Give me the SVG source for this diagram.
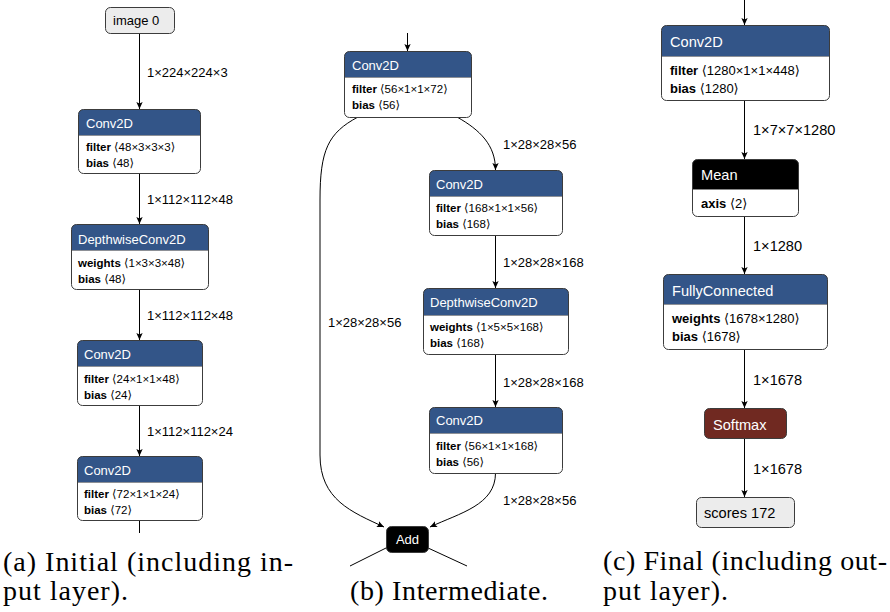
<svg xmlns="http://www.w3.org/2000/svg" width="890" height="612" viewBox="0 0 890 612">
<defs>
<style>
.bg{fill:#fff}
.box{fill:#fff;stroke:none}
.bd{fill:none;stroke:#3c3c3c;stroke-width:1}
.dv{stroke:#8a8a8a;stroke-width:0.8}
.hdr{fill:#335588}
.hk{fill:#000}
.hs{fill:#702921}
.io{fill:#ececec;stroke:#3c3c3c;stroke-width:1}
text{font-family:"Liberation Sans","DejaVu Sans",sans-serif;fill:#000}
.ht{fill:#fff;font-size:13px}
.at{font-size:11.5px}
.el{font-size:13px}
.ht2{fill:#fff;font-size:14.6px}
.at2{font-size:13px}
.el2{font-size:14.6px}
.b{font-weight:bold}
.edge{fill:none;stroke:#000;stroke-width:1}
.cap{font-family:"Liberation Serif","DejaVu Serif",serif;font-size:28px}
</style>
<marker id="ah" viewBox="0 0 10 10" refX="10" refY="5" markerWidth="8" markerHeight="7" markerUnits="userSpaceOnUse" orient="auto">
<path d="M0,0.5 L10,5 L0,9.5 L2,5 Z" fill="#000"/>
</marker>
</defs>
<rect class="bg" x="0" y="0" width="890" height="612"/>

<g id="connectors">
<!-- panel a -->
<path class="edge" d="M139.5,33 V109" marker-end="url(#ah)"/>
<path class="edge" d="M139.5,173 V224" marker-end="url(#ah)"/>
<path class="edge" d="M139.5,289 V340" marker-end="url(#ah)"/>
<path class="edge" d="M139.5,405 V456" marker-end="url(#ah)"/>
<path class="edge" d="M139.5,520 V533"/>
<text class="el" x="147" y="77">1×224×224×3</text>
<text class="el" x="147" y="204">1×112×112×48</text>
<text class="el" x="147" y="320">1×112×112×48</text>
<text class="el" x="147" y="436">1×112×112×24</text>
<!-- panel b -->
<path class="edge" d="M407.5,33 V51" marker-end="url(#ah)"/>
<path class="edge" d="M457,117 C480,130 495.5,145 495.5,170" marker-end="url(#ah)"/>
<path class="edge" d="M495.5,235 V288" marker-end="url(#ah)"/>
<path class="edge" d="M495.5,354 V407" marker-end="url(#ah)"/>
<path class="edge" d="M495.5,473 C495.5,505 460,513 430,527" marker-end="url(#ah)"/>
<path class="edge" d="M358,117 C328,133 320,150 320,200 L320,455 C320,500 352,512 384,527" marker-end="url(#ah)"/>
<path class="edge" d="M387,547.5 L350,566"/>
<path class="edge" d="M427,547.5 L467,566"/>
<text class="el" x="503" y="149">1×28×28×56</text>
<text class="el" x="503" y="267">1×28×28×168</text>
<text class="el" x="503" y="387">1×28×28×168</text>
<text class="el" x="503" y="505">1×28×28×56</text>
<text class="el" x="328" y="327">1×28×28×56</text>
<!-- panel c -->
<path class="edge" d="M744.5,0 V25" marker-end="url(#ah)"/>
<path class="edge" d="M744.5,100 V159" marker-end="url(#ah)"/>
<path class="edge" d="M744.5,216 V274" marker-end="url(#ah)"/>
<path class="edge" d="M744.5,349 V408" marker-end="url(#ah)"/>
<path class="edge" d="M744.5,438 V497" marker-end="url(#ah)"/>
<text class="el2" x="753" y="135">1×7×7×1280</text>
<text class="el2" x="753" y="251">1×1280</text>
<text class="el2" x="753" y="385">1×1678</text>
<text class="el2" x="753" y="474">1×1678</text>
</g>

<!-- panel a nodes -->
<g id="a-image0">
<rect class="io" x="105.5" y="7.5" width="69" height="26" rx="5"/>
<text class="el" x="113" y="25">image 0</text>
</g>
<g id="a-conv1">
<rect class="box" x="78.5" y="109.5" width="122" height="64" rx="5"/>
<path class="hdr" d="M78.5,135.5 V114.5 Q78.5,109.5 83.5,109.5 H195.5 Q200.5,109.5 200.5,114.5 V135.5 Z"/>
<line class="dv" x1="78.5" y1="135.5" x2="200.5" y2="135.5"/>
<rect class="bd" x="78.5" y="109.5" width="122" height="64" rx="5"/>
<text class="ht" x="86" y="128">Conv2D</text>
<text class="at" x="86" y="151"><tspan class="b">filter</tspan> ⟨48×3×3×3⟩</text>
<text class="at" x="86" y="167"><tspan class="b">bias</tspan> ⟨48⟩</text>
</g>
<g id="a-dw1">
<rect class="box" x="71.5" y="224.5" width="137" height="65" rx="5"/>
<path class="hdr" d="M71.5,250.5 V229.5 Q71.5,224.5 76.5,224.5 H203.5 Q208.5,224.5 208.5,229.5 V250.5 Z"/>
<line class="dv" x1="71.5" y1="250.5" x2="208.5" y2="250.5"/>
<rect class="bd" x="71.5" y="224.5" width="137" height="65" rx="5"/>
<text class="ht" x="78" y="244">DepthwiseConv2D</text>
<text class="at" x="78" y="267"><tspan class="b">weights</tspan> ⟨1×3×3×48⟩</text>
<text class="at" x="78" y="283"><tspan class="b">bias</tspan> ⟨48⟩</text>
</g>
<g id="a-conv2">
<rect class="box" x="77.5" y="340.5" width="125" height="65" rx="5"/>
<path class="hdr" d="M77.5,366.5 V345.5 Q77.5,340.5 82.5,340.5 H197.5 Q202.5,340.5 202.5,345.5 V366.5 Z"/>
<line class="dv" x1="77.5" y1="366.5" x2="202.5" y2="366.5"/>
<rect class="bd" x="77.5" y="340.5" width="125" height="65" rx="5"/>
<text class="ht" x="84" y="359">Conv2D</text>
<text class="at" x="84" y="383"><tspan class="b">filter</tspan> ⟨24×1×1×48⟩</text>
<text class="at" x="84" y="399"><tspan class="b">bias</tspan> ⟨24⟩</text>
</g>
<g id="a-conv3">
<rect class="box" x="77.5" y="456.5" width="125" height="64" rx="5"/>
<path class="hdr" d="M77.5,482.5 V461.5 Q77.5,456.5 82.5,456.5 H197.5 Q202.5,456.5 202.5,461.5 V482.5 Z"/>
<line class="dv" x1="77.5" y1="482.5" x2="202.5" y2="482.5"/>
<rect class="bd" x="77.5" y="456.5" width="125" height="64" rx="5"/>
<text class="ht" x="84" y="475">Conv2D</text>
<text class="at" x="84" y="498"><tspan class="b">filter</tspan> ⟨72×1×1×24⟩</text>
<text class="at" x="84" y="514"><tspan class="b">bias</tspan> ⟨72⟩</text>
</g>

<!-- panel b nodes -->
<g id="b-conv1">
<rect class="box" x="344.5" y="51.5" width="127" height="66" rx="5"/>
<path class="hdr" d="M344.5,77.5 V56.5 Q344.5,51.5 349.5,51.5 H466.5 Q471.5,51.5 471.5,56.5 V77.5 Z"/>
<line class="dv" x1="344.5" y1="77.5" x2="471.5" y2="77.5"/>
<rect class="bd" x="344.5" y="51.5" width="127" height="66" rx="5"/>
<text class="ht" x="352" y="70">Conv2D</text>
<text class="at" x="352" y="93"><tspan class="b">filter</tspan> ⟨56×1×1×72⟩</text>
<text class="at" x="352" y="109"><tspan class="b">bias</tspan> ⟨56⟩</text>
</g>
<g id="b-conv2">
<rect class="box" x="429.5" y="170.5" width="133" height="65" rx="5"/>
<path class="hdr" d="M429.5,196.5 V175.5 Q429.5,170.5 434.5,170.5 H557.5 Q562.5,170.5 562.5,175.5 V196.5 Z"/>
<line class="dv" x1="429.5" y1="196.5" x2="562.5" y2="196.5"/>
<rect class="bd" x="429.5" y="170.5" width="133" height="65" rx="5"/>
<text class="ht" x="436" y="189">Conv2D</text>
<text class="at" x="436" y="212"><tspan class="b">filter</tspan> ⟨168×1×1×56⟩</text>
<text class="at" x="436" y="228"><tspan class="b">bias</tspan> ⟨168⟩</text>
</g>
<g id="b-dw">
<rect class="box" x="423.5" y="288.5" width="145" height="66" rx="5"/>
<path class="hdr" d="M423.5,315.5 V293.5 Q423.5,288.5 428.5,288.5 H563.5 Q568.5,288.5 568.5,293.5 V315.5 Z"/>
<line class="dv" x1="423.5" y1="315.5" x2="568.5" y2="315.5"/>
<rect class="bd" x="423.5" y="288.5" width="145" height="66" rx="5"/>
<text class="ht" x="430" y="307">DepthwiseConv2D</text>
<text class="at" x="430" y="331"><tspan class="b">weights</tspan> ⟨1×5×5×168⟩</text>
<text class="at" x="430" y="347"><tspan class="b">bias</tspan> ⟨168⟩</text>
</g>
<g id="b-conv3">
<rect class="box" x="429.5" y="407.5" width="133" height="66" rx="5"/>
<path class="hdr" d="M429.5,433.5 V412.5 Q429.5,407.5 434.5,407.5 H557.5 Q562.5,407.5 562.5,412.5 V433.5 Z"/>
<line class="dv" x1="429.5" y1="433.5" x2="562.5" y2="433.5"/>
<rect class="bd" x="429.5" y="407.5" width="133" height="66" rx="5"/>
<text class="ht" x="436" y="425">Conv2D</text>
<text class="at" x="436" y="450"><tspan class="b">filter</tspan> ⟨56×1×1×168⟩</text>
<text class="at" x="436" y="466"><tspan class="b">bias</tspan> ⟨56⟩</text>
</g>
<g id="b-add">
<rect x="386.5" y="526.5" width="42" height="26" rx="5" fill="#000" stroke="#3c3c3c"/>
<text class="ht" x="407.5" y="544" text-anchor="middle">Add</text>
</g>

<!-- panel c nodes -->
<g id="c-conv">
<rect class="box" x="661.5" y="25.5" width="168" height="75" rx="5"/>
<path class="hdr" d="M661.5,56.5 V30.5 Q661.5,25.5 666.5,25.5 H824.5 Q829.5,25.5 829.5,30.5 V56.5 Z"/>
<line class="dv" x1="661.5" y1="56.5" x2="829.5" y2="56.5"/>
<rect class="bd" x="661.5" y="25.5" width="168" height="75" rx="5"/>
<text class="ht2" x="670" y="47">Conv2D</text>
<text class="at2" x="670" y="74.5"><tspan class="b">filter</tspan> ⟨1280×1×1×448⟩</text>
<text class="at2" x="670" y="92.5"><tspan class="b">bias</tspan> ⟨1280⟩</text>
</g>
<g id="c-mean">
<rect class="box" x="692.5" y="159.5" width="106" height="57" rx="5"/>
<path class="hk" d="M692.5,189.5 V164.5 Q692.5,159.5 697.5,159.5 H793.5 Q798.5,159.5 798.5,164.5 V189.5 Z"/>
<line class="dv" x1="692.5" y1="189.5" x2="798.5" y2="189.5"/>
<rect class="bd" x="692.5" y="159.5" width="106" height="57" rx="5"/>
<text class="ht2" x="701" y="180">Mean</text>
<text class="at2" x="701" y="207.5"><tspan class="b">axis</tspan> ⟨2⟩</text>
</g>
<g id="c-fc">
<rect class="box" x="663.5" y="274.5" width="164" height="75" rx="5"/>
<path class="hdr" d="M663.5,304.5 V279.5 Q663.5,274.5 668.5,274.5 H822.5 Q827.5,274.5 827.5,279.5 V304.5 Z"/>
<line class="dv" x1="663.5" y1="304.5" x2="827.5" y2="304.5"/>
<rect class="bd" x="663.5" y="274.5" width="164" height="75" rx="5"/>
<text class="ht2" x="672" y="296">FullyConnected</text>
<text class="at2" x="672" y="323"><tspan class="b">weights</tspan> ⟨1678×1280⟩</text>
<text class="at2" x="672" y="341"><tspan class="b">bias</tspan> ⟨1678⟩</text>
</g>
<g id="c-softmax">
<rect x="704.5" y="408.5" width="82" height="30" rx="5" fill="#702921" stroke="#3c3c3c"/>
<text class="ht2" x="713" y="430">Softmax</text>
</g>
<g id="c-scores">
<rect class="io" x="696.5" y="497.5" width="98" height="30" rx="5"/>
<text class="el2" x="704" y="518">scores 172</text>
</g>

<!-- captions -->
<text class="cap" x="3" y="571" textLength="290">(a) Initial (including in-</text>
<text class="cap" x="3" y="600" textLength="125">put layer).</text>
<text class="cap" x="350" y="600" textLength="198">(b) Intermediate.</text>
<text class="cap" x="603" y="570" textLength="284">(c) Final (including out-</text>
<text class="cap" x="603" y="600" textLength="125">put layer).</text>
</svg>
